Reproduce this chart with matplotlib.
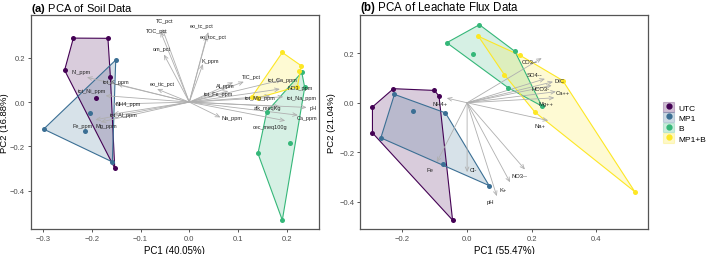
import matplotlib
matplotlib.use("Agg")
import matplotlib.pyplot as plt
from matplotlib.patches import Polygon, Patch
from matplotlib.lines import Line2D
from matplotlib.legend_handler import HandlerTuple
import numpy as np

plt.rcParams['font.family'] = ['Liberation Sans', 'DejaVu Sans']
plt.rcParams['mathtext.fontset'] = 'custom'
plt.rcParams['mathtext.bf'] = 'Liberation Sans:bold'
plt.rcParams['mathtext.rm'] = 'Liberation Sans'

groups = ["UTC", "MP1", "B", "MP1+B"]
colors = ["#440154", "#3B6F94", "#35B779", "#FDE725"]

# ---- (a) soil PCA scores
soil_x = {
    "UTC": [-0.238, -0.167, -0.256, -0.162, -0.191, -0.153],
    "MP1": [-0.151, -0.203, -0.299, -0.215, -0.158],
    "B": [0.231, 0.237, 0.159, 0.207, 0.141, 0.191],
    "MP1+B": [0.191, 0.230, 0.226, 0.222, 0.141, 0.128],
}
soil_y = {
    "UTC": [0.289, 0.288, 0.144, 0.114, 0.017, -0.299],
    "MP1": [0.190, -0.051, -0.122, -0.129, -0.270],
    "B": [0.134, 0.066, -0.044, -0.186, -0.232, -0.533],
    "MP1+B": [0.224, 0.164, 0.141, 0.070, 0.019, 0.022],
}
# soil loadings: name, arrow tip x, tip y, label x, label y
soil_vars = ["TC_pct", "TOC_pct", "om_pct", "eo_tic_pct", "tot_K_ppm", "Ni_ppm",
             "tot_Ni_ppm", "NH4_ppm", "tot_Al_ppm", "Fe_ppm", "Mg_ppm",
             "eo_tc_pct", "eo_toc_pct", "K_ppm", "Al_ppm", "TIC_pct", "tot_Fe_ppm",
             "tot_Ca_ppm", "NO3_ppm", "tot_Mg_ppm", "tot_Na_ppm", "alk_meqKg",
             "pH", "Ca_ppm", "Na_ppm", "cec_meq100g"]
soil_tx = [-0.055, -0.059, -0.052, -0.066, -0.148, -0.210, -0.172, -0.156, -0.156,
           -0.193, -0.182, 0.039, 0.036, 0.028, 0.090, 0.112, 0.080, 0.190, 0.186,
           0.166, 0.193, 0.186, 0.241, 0.223, 0.064, 0.197]
soil_ty = [0.330, 0.318, 0.215, 0.059, 0.081, 0.112, 0.029, -0.009, -0.054,
           -0.080, -0.090, 0.316, 0.300, 0.172, 0.089, 0.092, 0.050, 0.100, 0.059,
           0.028, 0.024, -0.020, -0.024, -0.059, -0.069, -0.084]
soil_lx = [-0.050, -0.066, -0.056, -0.055, -0.150, -0.222, -0.199, -0.125, -0.135,
           -0.220, -0.171, 0.026, 0.049, 0.043, 0.074, 0.128, 0.060, 0.193, 0.228,
           0.146, 0.232, 0.160, 0.254, 0.242, 0.087, 0.166]
soil_ly = [0.369, 0.325, 0.243, 0.082, 0.092, 0.138, 0.053, -0.006, -0.054,
           -0.107, -0.107, 0.348, 0.295, 0.188, 0.076, 0.115, 0.041, 0.104, 0.066,
           0.022, 0.020, -0.024, -0.024, -0.069, -0.069, -0.110]

# ---- (b) leachate PCA scores
leach_x = {
    "UTC": [-0.228, -0.101, -0.087, -0.293, -0.293, -0.045],
    "MP1": [-0.225, -0.166, -0.067, -0.267, -0.076, 0.068],
    "B": [0.038, -0.063, 0.018, 0.148, 0.128, 0.231],
    "MP1+B": [0.035, 0.164, 0.115, 0.210, 0.296, 0.519],
}
leach_y = {
    "UTC": [0.057, 0.050, 0.027, -0.017, -0.122, -0.475],
    "MP1": [0.034, -0.035, -0.041, -0.142, -0.249, -0.335],
    "B": [0.316, 0.243, 0.199, 0.208, 0.060, -0.013],
    "MP1+B": [0.269, 0.192, 0.114, -0.038, 0.090, -0.360],
}
leach_vars = ["CO3--", "SO4--", "HCO3-", "DIC", "Ca++", "Mg++", "Na+", "NH4+",
              "Fe", "Cl-", "NO3--", "K+", "pH"]
leach_tx = [0.231, 0.241, 0.262, 0.266, 0.275, 0.270, 0.251, -0.063, -0.094,
            0.000, 0.179, 0.133, 0.092]
leach_ty = [0.181, 0.097, 0.070, 0.085, 0.045, 0.020, -0.072, 0.019, -0.241,
            -0.281, -0.270, -0.322, -0.378]
leach_lx = [0.195, 0.210, 0.228, 0.285, 0.296, 0.245, 0.225, -0.083, -0.116,
            0.020, 0.161, 0.112, 0.071]
leach_ly = [0.168, 0.113, 0.057, 0.091, 0.040, -0.001, -0.092, -0.001, -0.272,
            -0.269, -0.294, -0.350, -0.399]


def hull(x, y):
    pts = sorted(set(zip(x, y)))
    def cross(o, a, b):
        return (a[0] - o[0]) * (b[1] - o[1]) - (a[1] - o[1]) * (b[0] - o[0])
    lower, upper = [], []
    for p in pts:
        while len(lower) >= 2 and cross(lower[-2], lower[-1], p) <= 0:
            lower.pop()
        lower.append(p)
    for p in reversed(pts):
        while len(upper) >= 2 and cross(upper[-2], upper[-1], p) <= 0:
            upper.pop()
        upper.append(p)
    return np.array(lower[:-1] + upper[:-1])


def panel(ax, sx, sy, names, tx, ty, lx, ly, fs):
    for g, c in zip(groups, colors):
        h = hull(sx[g], sy[g])
        ax.add_patch(Polygon(h, closed=True, facecolor=c, alpha=0.2,
                             edgecolor="none", zorder=1))
        ax.add_patch(Polygon(h, closed=True, facecolor="none", edgecolor=c,
                             lw=0.8, zorder=2))
    for i, n in enumerate(names):
        ax.annotate("", xy=(tx[i], ty[i]), xytext=(0, 0),
                    arrowprops=dict(arrowstyle="->,head_length=0.3,head_width=0.13",
                                    color="#AFAFAF", lw=0.6, shrinkA=0, shrinkB=0),
                    zorder=3)
        ax.text(lx[i], ly[i], n, fontsize=fs, color="#222222",
                ha="center", va="center", zorder=5)
    for g, c in zip(groups, colors):
        ax.scatter(sx[g], sy[g], s=13, color=c, zorder=4, linewidths=0)
    for s in ax.spines.values():
        s.set_color("#555555")
        s.set_linewidth(0.9)
    ax.tick_params(labelsize=5.5, colors="#555555", length=2.3, width=0.7,
                   labelcolor="#4D4D4D", pad=2)


fig = plt.figure(figsize=(7.09, 2.55), dpi=100)
ax1 = fig.add_axes([0.0437, 0.098, 0.406, 0.839])
ax2 = fig.add_axes([0.508, 0.098, 0.406, 0.839])

panel(ax1, soil_x, soil_y, soil_vars, soil_tx, soil_ty, soil_lx, soil_ly, 4.0)
ax1.set_xlim(-0.325, 0.266)
ax1.set_ylim(-0.573, 0.393)
ax1.set_xticks([-0.3, -0.2, -0.1, 0.0, 0.1, 0.2])
ax1.set_yticks([-0.4, -0.2, 0.0, 0.2])
ax1.set_xlabel("PC1 (40.05%)", fontsize=7, labelpad=2)
ax1.set_ylabel("PC2 (16.88%)", fontsize=6.8, va="center")
ax1.yaxis.set_label_coords(-0.092, 0.5)
ax1.set_title(r"$\mathbf{(a)}$ PCA of Soil Data", fontsize=8, loc="left", pad=3)

panel(ax2, leach_x, leach_y, leach_vars, leach_tx, leach_ty, leach_lx, leach_ly, 4.2)
ax2.set_xlim(-0.331, 0.560)
ax2.set_ylim(-0.511, 0.355)
ax2.set_xticks([-0.2, 0.0, 0.2, 0.4])
ax2.set_yticks([-0.4, -0.2, 0.0, 0.2])
ax2.set_xlabel("PC1 (55.47%)", fontsize=7, labelpad=2)
ax2.set_ylabel("PC2 (21.04%)", fontsize=6.8, va="center")
ax2.yaxis.set_label_coords(-0.1, 0.5)
ax2.set_title(r"$\mathbf{(b)}$ PCA of Leachate Flux Data", fontsize=8.3, loc="left", pad=3)

handles = []
for c in colors:
    handles.append((Patch(facecolor=c, alpha=0.25, edgecolor=c, lw=0.8),
                    Line2D([], [], marker="o", ls="none", color=c, markersize=3.5)))
fig.legend(handles, groups, handler_map={tuple: HandlerTuple(ndivide=1, pad=0)},
           loc="center left", bbox_to_anchor=(0.929, 0.516), frameon=False,
           fontsize=6, handlelength=1.4, handleheight=1.4, labelspacing=0.1,
           handletextpad=0.45, borderpad=0)

fig.savefig("out.png", dpi=100)
